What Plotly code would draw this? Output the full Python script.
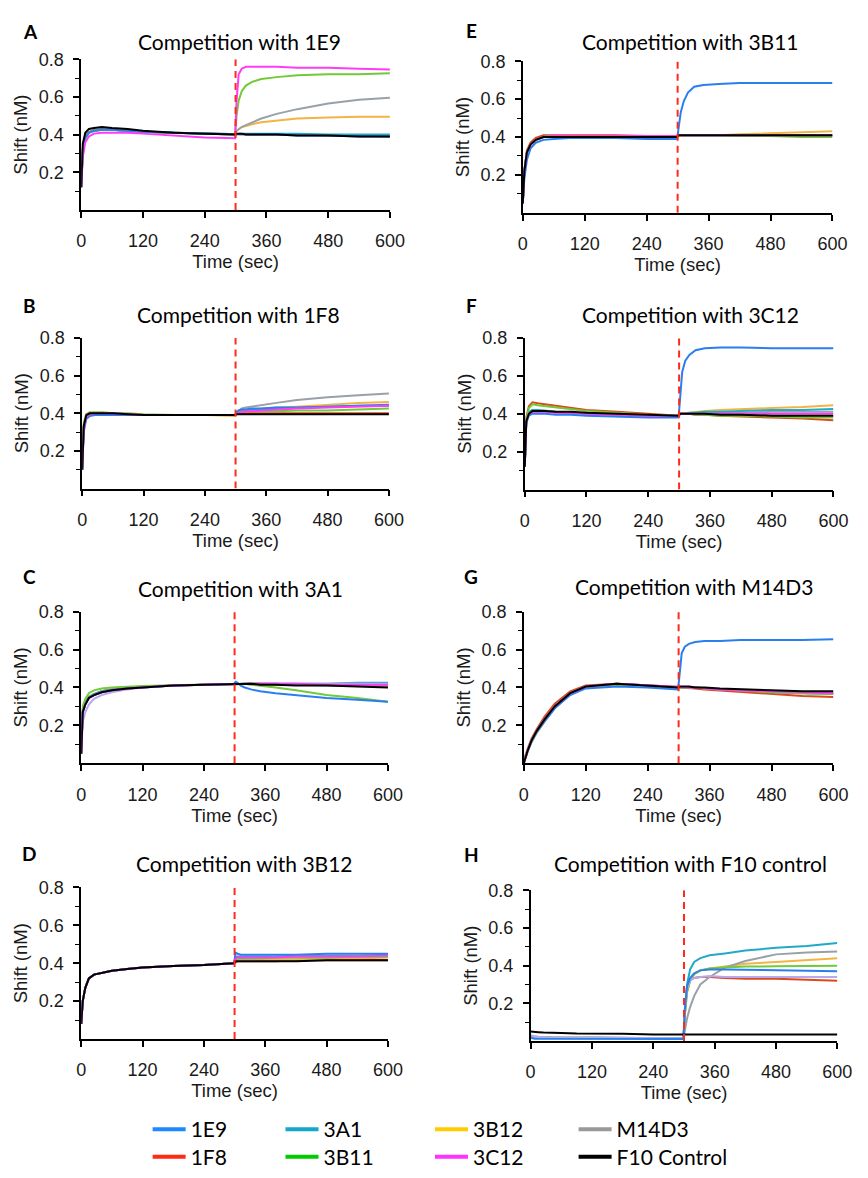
import plotly.graph_objects as go

W, H = 868, 1178

# ---------------- data ----------------
TIME = [0, 3, 8, 15, 25, 40, 60, 90, 120, 180, 240, 299,
        302, 306, 312, 320, 332, 350, 380, 420, 480, 540, 600]
SWITCH_TIME = 300
X_TICKS = [0, 120, 240, 360, 480, 600]
Y_TICKS = [0.2, 0.4, 0.6, 0.8]
Y_TICK_TEXT = ["0.2", "0.4", "0.6", "0.8"]
Y_MINOR = [0.1, 0.3, 0.5, 0.7]

SERIES = ["1E9", "1F8", "3A1", "3B11", "3B12", "3C12", "M14D3", "F10 Control"]
PANELS = ["A", "B", "C", "D", "E", "F", "G", "H"]
PANEL_TITLES = ["Competition with 1E9", "Competition with 1F8", "Competition with 3A1",
                "Competition with 3B12", "Competition with 3B11", "Competition with 3C12",
                "Competition with M14D3", "Competition with F10 control"]

# Panel A - competition with 1E9
A_1E9 = [0.12, 0.32, 0.385, 0.41, 0.42, 0.425, 0.425, 0.42, 0.415, 0.41, 0.405, 0.40,
         0.40, 0.40, 0.40, 0.40, 0.40, 0.40, 0.40, 0.395, 0.395, 0.39, 0.39]
A_1F8 = [0.12, 0.33, 0.39, 0.415, 0.425, 0.43, 0.425, 0.42, 0.415, 0.41, 0.405, 0.40,
         0.40, 0.40, 0.40, 0.40, 0.40, 0.40, 0.40, 0.40, 0.395, 0.395, 0.39]
A_3A1 = [0.12, 0.30, 0.38, 0.41, 0.42, 0.425, 0.425, 0.42, 0.415, 0.41, 0.405, 0.40,
         0.40, 0.405, 0.405, 0.405, 0.405, 0.405, 0.405, 0.405, 0.40, 0.40, 0.40]
A_3B11 = [0.12, 0.31, 0.385, 0.41, 0.42, 0.425, 0.425, 0.42, 0.415, 0.41, 0.405, 0.40,
          0.50, 0.58, 0.63, 0.66, 0.68, 0.695, 0.705, 0.715, 0.72, 0.72, 0.725]
A_3B12 = [0.12, 0.31, 0.385, 0.41, 0.42, 0.425, 0.425, 0.42, 0.415, 0.41, 0.405, 0.40,
          0.42, 0.43, 0.44, 0.445, 0.455, 0.465, 0.475, 0.485, 0.49, 0.495, 0.495]
A_3C12 = [0.12, 0.28, 0.36, 0.39, 0.405, 0.41, 0.41, 0.41, 0.405, 0.395, 0.385, 0.38,
          0.58, 0.72, 0.75, 0.76, 0.76, 0.76, 0.76, 0.755, 0.755, 0.75, 0.745]
A_M14D3 = [0.12, 0.31, 0.385, 0.41, 0.42, 0.425, 0.425, 0.42, 0.415, 0.41, 0.405, 0.40,
           0.42, 0.43, 0.44, 0.45, 0.465, 0.485, 0.51, 0.535, 0.565, 0.585, 0.595]
A_F10 = [0.12, 0.35, 0.41, 0.43, 0.435, 0.44, 0.435, 0.43, 0.42, 0.41, 0.405, 0.40,
         0.405, 0.405, 0.405, 0.40, 0.40, 0.40, 0.40, 0.395, 0.395, 0.39, 0.39]

# Panel B - competition with 1F8
B_1E9 = [0.10, 0.30, 0.37, 0.385, 0.39, 0.39, 0.39, 0.39, 0.39, 0.39, 0.39, 0.39,
         0.405, 0.415, 0.42, 0.42, 0.425, 0.425, 0.43, 0.43, 0.435, 0.44, 0.445]
B_1F8 = [0.10, 0.33, 0.385, 0.40, 0.40, 0.40, 0.40, 0.395, 0.39, 0.39, 0.39, 0.39,
         0.395, 0.40, 0.40, 0.40, 0.40, 0.40, 0.40, 0.40, 0.40, 0.40, 0.40]
B_3A1 = [0.10, 0.32, 0.38, 0.395, 0.40, 0.40, 0.395, 0.395, 0.39, 0.39, 0.39, 0.39,
         0.40, 0.41, 0.415, 0.415, 0.42, 0.42, 0.425, 0.43, 0.435, 0.44, 0.44]
B_3B11 = [0.10, 0.35, 0.395, 0.405, 0.405, 0.405, 0.40, 0.40, 0.395, 0.39, 0.39, 0.39,
          0.40, 0.405, 0.41, 0.41, 0.41, 0.41, 0.41, 0.415, 0.415, 0.42, 0.425]
B_3B12 = [0.10, 0.33, 0.385, 0.40, 0.40, 0.40, 0.40, 0.395, 0.39, 0.39, 0.39, 0.385,
          0.40, 0.41, 0.415, 0.42, 0.42, 0.425, 0.43, 0.435, 0.445, 0.455, 0.46]
B_3C12 = [0.10, 0.32, 0.38, 0.395, 0.40, 0.40, 0.40, 0.395, 0.39, 0.39, 0.39, 0.39,
          0.395, 0.40, 0.405, 0.41, 0.41, 0.415, 0.42, 0.425, 0.43, 0.435, 0.44]
B_M14D3 = [0.10, 0.32, 0.38, 0.395, 0.40, 0.40, 0.40, 0.395, 0.39, 0.39, 0.39, 0.39,
           0.405, 0.415, 0.425, 0.43, 0.435, 0.445, 0.455, 0.47, 0.485, 0.495, 0.505]
B_F10 = [0.10, 0.33, 0.39, 0.40, 0.40, 0.40, 0.40, 0.395, 0.39, 0.39, 0.39, 0.39,
         0.395, 0.395, 0.395, 0.395, 0.395, 0.395, 0.395, 0.395, 0.395, 0.395, 0.395]

# Panel C - competition with 3A1
C_1E9 = [0.05, 0.27, 0.31, 0.345, 0.36, 0.375, 0.385, 0.395, 0.40, 0.41, 0.415, 0.42,
         0.43, 0.425, 0.41, 0.40, 0.39, 0.38, 0.37, 0.36, 0.345, 0.335, 0.325]
C_1F8 = [0.05, 0.28, 0.32, 0.35, 0.365, 0.38, 0.39, 0.398, 0.403, 0.41, 0.415, 0.42,
         0.42, 0.42, 0.42, 0.42, 0.42, 0.42, 0.42, 0.415, 0.415, 0.41, 0.41]
C_3A1 = [0.05, 0.28, 0.32, 0.35, 0.365, 0.38, 0.39, 0.398, 0.403, 0.41, 0.415, 0.42,
         0.42, 0.42, 0.42, 0.42, 0.42, 0.42, 0.42, 0.42, 0.42, 0.425, 0.425]
C_3B11 = [0.05, 0.30, 0.34, 0.37, 0.385, 0.395, 0.40, 0.405, 0.408, 0.412, 0.415, 0.42,
          0.42, 0.42, 0.42, 0.42, 0.415, 0.41, 0.40, 0.385, 0.36, 0.345, 0.325]
C_3B12 = [0.05, 0.28, 0.32, 0.35, 0.365, 0.38, 0.39, 0.398, 0.403, 0.41, 0.415, 0.42,
          0.42, 0.42, 0.42, 0.42, 0.42, 0.42, 0.415, 0.415, 0.415, 0.41, 0.41]
C_3C12 = [0.05, 0.27, 0.31, 0.345, 0.36, 0.375, 0.385, 0.395, 0.40, 0.41, 0.415, 0.42,
          0.42, 0.42, 0.42, 0.42, 0.42, 0.42, 0.42, 0.42, 0.415, 0.415, 0.415]
C_M14D3 = [0.05, 0.27, 0.31, 0.345, 0.36, 0.375, 0.385, 0.395, 0.40, 0.41, 0.415, 0.42,
           0.42, 0.42, 0.42, 0.42, 0.42, 0.42, 0.415, 0.415, 0.41, 0.41, 0.41]
C_F10 = [0.05, 0.27, 0.31, 0.345, 0.36, 0.375, 0.385, 0.395, 0.40, 0.41, 0.415, 0.42,
         0.42, 0.42, 0.42, 0.42, 0.42, 0.415, 0.415, 0.41, 0.41, 0.405, 0.40]
C_OTHER = [0.05, 0.22, 0.27, 0.31, 0.34, 0.36, 0.375, 0.39, 0.40, 0.41, 0.415, 0.42,
           0.42, 0.42, 0.42, 0.42, 0.42, 0.42, 0.42, 0.42, 0.42, 0.42, 0.42]

# Panel D - competition with 3B12
D_1E9 = [0.08, 0.20, 0.27, 0.32, 0.34, 0.35, 0.36, 0.37, 0.377, 0.385, 0.39, 0.40,
         0.455, 0.45, 0.445, 0.445, 0.445, 0.445, 0.445, 0.445, 0.45, 0.45, 0.45]
D_1F8 = [0.08, 0.20, 0.27, 0.32, 0.34, 0.35, 0.36, 0.37, 0.377, 0.385, 0.39, 0.40,
         0.405, 0.41, 0.41, 0.41, 0.41, 0.41, 0.41, 0.415, 0.415, 0.415, 0.415]
D_3A1 = [0.08, 0.20, 0.27, 0.32, 0.34, 0.35, 0.36, 0.37, 0.377, 0.385, 0.39, 0.40,
         0.43, 0.435, 0.435, 0.435, 0.435, 0.435, 0.435, 0.44, 0.44, 0.44, 0.445]
D_3B11 = [0.08, 0.20, 0.27, 0.32, 0.34, 0.35, 0.36, 0.37, 0.377, 0.385, 0.39, 0.40,
          0.42, 0.425, 0.425, 0.425, 0.425, 0.425, 0.43, 0.43, 0.43, 0.435, 0.435]
D_3B12 = [0.08, 0.20, 0.27, 0.32, 0.34, 0.35, 0.36, 0.37, 0.377, 0.385, 0.39, 0.40,
          0.41, 0.415, 0.415, 0.415, 0.415, 0.42, 0.42, 0.42, 0.425, 0.425, 0.43]
D_3C12 = [0.08, 0.20, 0.27, 0.32, 0.34, 0.35, 0.36, 0.37, 0.377, 0.385, 0.39, 0.40,
          0.425, 0.43, 0.43, 0.43, 0.43, 0.43, 0.43, 0.435, 0.435, 0.435, 0.44]
D_M14D3 = [0.08, 0.20, 0.27, 0.32, 0.34, 0.35, 0.36, 0.37, 0.377, 0.385, 0.39, 0.40,
           0.42, 0.425, 0.425, 0.425, 0.425, 0.43, 0.43, 0.43, 0.43, 0.435, 0.435]
D_F10 = [0.08, 0.20, 0.27, 0.32, 0.34, 0.35, 0.36, 0.37, 0.377, 0.385, 0.39, 0.40,
         0.41, 0.41, 0.41, 0.41, 0.41, 0.41, 0.41, 0.41, 0.415, 0.415, 0.415]

# Panel E - competition with 3B11
E_1E9 = [0.05, 0.18, 0.28, 0.34, 0.37, 0.385, 0.39, 0.395, 0.395, 0.395, 0.39, 0.39,
         0.45, 0.53, 0.59, 0.635, 0.665, 0.675, 0.68, 0.685, 0.685, 0.685, 0.685]
E_1F8 = [0.05, 0.22, 0.33, 0.37, 0.395, 0.41, 0.41, 0.41, 0.41, 0.41, 0.405, 0.405,
         0.41, 0.41, 0.41, 0.41, 0.41, 0.41, 0.41, 0.41, 0.41, 0.41, 0.41]
E_3A1 = [0.05, 0.22, 0.32, 0.36, 0.385, 0.40, 0.405, 0.405, 0.405, 0.405, 0.405, 0.405,
         0.41, 0.41, 0.41, 0.41, 0.41, 0.41, 0.41, 0.41, 0.41, 0.41, 0.41]
E_3B11 = [0.05, 0.22, 0.32, 0.36, 0.385, 0.40, 0.405, 0.405, 0.405, 0.405, 0.405, 0.405,
          0.41, 0.41, 0.41, 0.41, 0.41, 0.41, 0.41, 0.405, 0.405, 0.40, 0.40]
E_3B12 = [0.05, 0.22, 0.32, 0.36, 0.385, 0.40, 0.405, 0.405, 0.405, 0.405, 0.405, 0.405,
          0.41, 0.41, 0.41, 0.41, 0.41, 0.41, 0.41, 0.415, 0.42, 0.425, 0.43]
E_3C12 = [0.05, 0.22, 0.32, 0.36, 0.385, 0.40, 0.405, 0.405, 0.405, 0.405, 0.405, 0.405,
          0.41, 0.41, 0.41, 0.41, 0.41, 0.41, 0.41, 0.41, 0.41, 0.41, 0.41]
E_M14D3 = [0.05, 0.22, 0.32, 0.36, 0.385, 0.40, 0.405, 0.405, 0.405, 0.405, 0.405, 0.405,
           0.41, 0.41, 0.41, 0.41, 0.41, 0.41, 0.41, 0.41, 0.41, 0.41, 0.41]
E_F10 = [0.05, 0.22, 0.32, 0.36, 0.385, 0.40, 0.40, 0.40, 0.40, 0.40, 0.40, 0.40,
         0.41, 0.41, 0.41, 0.41, 0.41, 0.41, 0.41, 0.41, 0.41, 0.41, 0.41]

# Panel F - competition with 3C12
F_1E9 = [0.12, 0.35, 0.39, 0.40, 0.40, 0.40, 0.395, 0.395, 0.39, 0.385, 0.38, 0.38,
         0.50, 0.62, 0.68, 0.71, 0.735, 0.745, 0.75, 0.75, 0.745, 0.745, 0.745]
F_1F8 = [0.12, 0.38, 0.44, 0.46, 0.455, 0.45, 0.44, 0.43, 0.42, 0.41, 0.40, 0.39,
         0.40, 0.40, 0.40, 0.40, 0.395, 0.395, 0.39, 0.385, 0.38, 0.375, 0.365]
F_3A1 = [0.12, 0.36, 0.41, 0.42, 0.42, 0.415, 0.41, 0.405, 0.40, 0.395, 0.39, 0.39,
         0.40, 0.40, 0.40, 0.405, 0.405, 0.41, 0.41, 0.415, 0.42, 0.42, 0.425]
F_3B11 = [0.12, 0.37, 0.43, 0.45, 0.445, 0.44, 0.435, 0.425, 0.415, 0.405, 0.395, 0.39,
          0.40, 0.40, 0.40, 0.40, 0.395, 0.395, 0.39, 0.39, 0.385, 0.38, 0.38]
F_3B12 = [0.12, 0.36, 0.41, 0.42, 0.42, 0.415, 0.41, 0.405, 0.40, 0.395, 0.39, 0.39,
          0.40, 0.40, 0.40, 0.405, 0.41, 0.415, 0.42, 0.425, 0.43, 0.435, 0.445]
F_3C12 = [0.12, 0.36, 0.40, 0.41, 0.41, 0.41, 0.405, 0.405, 0.40, 0.395, 0.39, 0.39,
          0.40, 0.40, 0.40, 0.40, 0.40, 0.40, 0.40, 0.40, 0.40, 0.40, 0.40]
F_M14D3 = [0.12, 0.36, 0.40, 0.41, 0.41, 0.41, 0.405, 0.405, 0.40, 0.395, 0.39, 0.39,
           0.40, 0.40, 0.40, 0.40, 0.40, 0.405, 0.405, 0.405, 0.41, 0.41, 0.41]
F_F10 = [0.12, 0.36, 0.40, 0.415, 0.415, 0.415, 0.41, 0.41, 0.405, 0.40, 0.395, 0.39,
         0.40, 0.40, 0.40, 0.40, 0.40, 0.40, 0.395, 0.395, 0.39, 0.39, 0.39]

# Panel G - competition with M14D3
G_1E9 = [0.0, 0.03, 0.07, 0.115, 0.165, 0.22, 0.29, 0.36, 0.395, 0.405, 0.40, 0.39,
         0.48, 0.58, 0.615, 0.63, 0.64, 0.645, 0.645, 0.65, 0.65, 0.65, 0.655]
G_1F8 = [0.0, 0.04, 0.08, 0.13, 0.18, 0.245, 0.315, 0.38, 0.41, 0.42, 0.41, 0.40,
         0.40, 0.40, 0.40, 0.40, 0.395, 0.39, 0.385, 0.375, 0.365, 0.355, 0.35]
G_3A1 = [0.0, 0.03, 0.07, 0.12, 0.17, 0.23, 0.30, 0.37, 0.405, 0.42, 0.41, 0.40,
         0.40, 0.40, 0.40, 0.40, 0.40, 0.395, 0.39, 0.385, 0.375, 0.37, 0.365]
G_3B11 = [0.0, 0.025, 0.065, 0.11, 0.16, 0.22, 0.29, 0.365, 0.40, 0.415, 0.41, 0.40,
          0.40, 0.40, 0.40, 0.40, 0.40, 0.395, 0.39, 0.385, 0.375, 0.37, 0.365]
G_3B12 = [0.0, 0.03, 0.07, 0.12, 0.17, 0.23, 0.30, 0.37, 0.405, 0.42, 0.41, 0.40,
          0.40, 0.40, 0.40, 0.40, 0.40, 0.395, 0.39, 0.385, 0.38, 0.375, 0.37]
G_3C12 = [0.0, 0.03, 0.07, 0.12, 0.17, 0.23, 0.30, 0.37, 0.405, 0.42, 0.41, 0.40,
          0.40, 0.40, 0.40, 0.40, 0.40, 0.395, 0.39, 0.385, 0.38, 0.375, 0.37]
G_M14D3 = [0.0, 0.03, 0.07, 0.12, 0.17, 0.23, 0.30, 0.37, 0.405, 0.42, 0.41, 0.40,
           0.40, 0.40, 0.40, 0.40, 0.40, 0.395, 0.39, 0.385, 0.38, 0.375, 0.37]
G_F10 = [0.0, 0.03, 0.07, 0.12, 0.17, 0.23, 0.30, 0.37, 0.405, 0.42, 0.41, 0.40,
         0.405, 0.405, 0.405, 0.405, 0.40, 0.40, 0.395, 0.39, 0.385, 0.38, 0.38]

# Panel H - competition with F10 control
H_1E9 = [0.02, 0.015, 0.012, 0.012, 0.012, 0.01, 0.01, 0.01, 0.01, 0.01, 0.01, 0.01,
         0.18, 0.29, 0.335, 0.36, 0.375, 0.38, 0.38, 0.378, 0.375, 0.373, 0.37]
H_1F8 = [0.025, 0.02, 0.02, 0.018, 0.018, 0.016, 0.016, 0.015, 0.015, 0.015, 0.015, 0.015,
         0.18, 0.29, 0.325, 0.335, 0.34, 0.34, 0.335, 0.33, 0.33, 0.325, 0.32]
H_3A1 = [0.03, 0.025, 0.022, 0.02, 0.02, 0.018, 0.018, 0.016, 0.015, 0.015, 0.015, 0.015,
         0.15, 0.30, 0.38, 0.42, 0.44, 0.455, 0.465, 0.48, 0.495, 0.505, 0.52]
H_3B11 = [0.03, 0.025, 0.022, 0.02, 0.02, 0.018, 0.018, 0.016, 0.015, 0.015, 0.015, 0.015,
          0.15, 0.26, 0.32, 0.355, 0.375, 0.385, 0.39, 0.395, 0.397, 0.398, 0.40]
H_3B12 = [0.03, 0.025, 0.022, 0.02, 0.02, 0.018, 0.018, 0.016, 0.015, 0.015, 0.015, 0.015,
          0.15, 0.26, 0.32, 0.355, 0.375, 0.385, 0.395, 0.41, 0.42, 0.43, 0.44]
H_M14D3 = [0.03, 0.025, 0.022, 0.02, 0.02, 0.018, 0.018, 0.016, 0.015, 0.015, 0.015, 0.015,
           0.06, 0.12, 0.18, 0.24, 0.30, 0.34, 0.39, 0.425, 0.46, 0.47, 0.475]
H_F10 = [0.05, 0.05, 0.048, 0.047, 0.045, 0.045, 0.043, 0.04, 0.04, 0.038, 0.035, 0.035,
         0.035, 0.035, 0.035, 0.035, 0.035, 0.035, 0.035, 0.035, 0.035, 0.035, 0.035]
H_OTHER = [0.03, 0.025, 0.022, 0.02, 0.02, 0.018, 0.018, 0.016, 0.015, 0.015, 0.015, 0.015,
           0.17, 0.28, 0.32, 0.335, 0.34, 0.345, 0.34, 0.34, 0.34, 0.34, 0.34]

PANEL_DATA = {
    "A": {"1E9": A_1E9, "1F8": A_1F8, "3A1": A_3A1, "3B11": A_3B11, "3B12": A_3B12,
          "3C12": A_3C12, "M14D3": A_M14D3, "F10 Control": A_F10},
    "B": {"1E9": B_1E9, "1F8": B_1F8, "3A1": B_3A1, "3B11": B_3B11, "3B12": B_3B12,
          "3C12": B_3C12, "M14D3": B_M14D3, "F10 Control": B_F10},
    "C": {"1E9": C_1E9, "1F8": C_1F8, "3A1": C_3A1, "3B11": C_3B11, "3B12": C_3B12,
          "3C12": C_3C12, "M14D3": C_M14D3, "F10 Control": C_F10, "other": C_OTHER},
    "D": {"1E9": D_1E9, "1F8": D_1F8, "3A1": D_3A1, "3B11": D_3B11, "3B12": D_3B12,
          "3C12": D_3C12, "M14D3": D_M14D3, "F10 Control": D_F10},
    "E": {"1E9": E_1E9, "1F8": E_1F8, "3A1": E_3A1, "3B11": E_3B11, "3B12": E_3B12,
          "3C12": E_3C12, "M14D3": E_M14D3, "F10 Control": E_F10},
    "F": {"1E9": F_1E9, "1F8": F_1F8, "3A1": F_3A1, "3B11": F_3B11, "3B12": F_3B12,
          "3C12": F_3C12, "M14D3": F_M14D3, "F10 Control": F_F10},
    "G": {"1E9": G_1E9, "1F8": G_1F8, "3A1": G_3A1, "3B11": G_3B11, "3B12": G_3B12,
          "3C12": G_3C12, "M14D3": G_M14D3, "F10 Control": G_F10},
    "H": {"1E9": H_1E9, "1F8": H_1F8, "3A1": H_3A1, "3B11": H_3B11, "3B12": H_3B12,
          "M14D3": H_M14D3, "F10 Control": H_F10, "other": H_OTHER},
}

# ---------------- styles ----------------
LINE_COLORS = {"1E9": "#2a7ff0", "1F8": "#dc4a1c", "3A1": "#22a9c6", "3B11": "#72c93a",
               "3B12": "#f2b445", "3C12": "#ff3cf5", "M14D3": "#9aa0a8",
               "F10 Control": "#000000", "other": "#b8a8ee"}
LEGEND_COLORS = {"1E9": "#1e88ff", "1F8": "#ff2a10", "3A1": "#15a6cc", "3B11": "#00cc00",
                 "3B12": "#ffcc00", "3C12": "#ff33ff", "M14D3": "#999999",
                 "F10 Control": "#000000"}
DRAW_ORDER = ["1F8", "3B12", "M14D3", "3A1", "3B11", "other", "1E9", "3C12", "F10 Control"]

# panel boxes in pixels: (left, right, top, bottom) of the plotting area
PANEL_BOX = {"A": (78, 394, 50, 203), "B": (79, 393, 333, 486),
             "C": (78, 392, 611, 765), "D": (78, 392, 891, 1045),
             "E": (530, 847, 52, 206), "F": (532, 848, 333, 487),
             "G": (531, 848, 611, 765), "H": (538, 852, 894, 1047)}
TITLE_POS = {"A": (240, 32), "B": (239, 309), "C": (241, 587), "D": (245, 867),
             "E": (702, 32), "F": (702, 309), "G": (705, 585), "H": (702, 867)}
LETTER_POS = {"A": (26, 22), "B": (25, 300), "C": (25, 575), "D": (25, 857),
              "E": (477, 21), "F": (477, 300), "G": (477, 575), "H": (478, 858)}

# legend: 2 rows x 4 columns, one single-entry legend per slot
LEGEND_SLOTS = [("1E9", 151, 1137), ("1F8", 151, 1165),
                ("3A1", 287, 1137), ("3B11", 287, 1165),
                ("3B12", 440, 1137), ("3C12", 440, 1165),
                ("M14D3", 587, 1137), ("F10 Control", 587, 1165)]

TICK_FONT = dict(family="Liberation Sans, Arial, sans-serif", size=18, color="#1a1a1a")
AXIS_TITLE_FONT = dict(family="Liberation Sans, Arial, sans-serif", size=18.5, color="#1a1a1a")
TEXT_FONT = "Lato, Calibri, sans-serif"


def px_x(px):
    return px / W


def px_y(py):
    return 1 - py / H


fig = go.Figure()
layout = dict(width=W, height=H, margin=dict(l=0, r=0, t=0, b=0),
              plot_bgcolor="white", paper_bgcolor="white", showlegend=True)
annotations = []
shapes = []

for i, p in enumerate(PANELS):
    n = i + 1
    sfx = "" if n == 1 else str(n)
    xr, yr = "x" + sfx, "y" + sfx
    left, right, top, bottom = PANEL_BOX[p]
    for name in DRAW_ORDER:
        vals = PANEL_DATA[p].get(name)
        if vals is None:
            continue
        fig.add_trace(go.Scatter(x=TIME, y=vals, mode="lines", name=name,
                                 line=dict(color=LINE_COLORS[name], width=2),
                                 showlegend=False, hoverinfo="skip",
                                 xaxis=xr, yaxis=yr))
    layout["xaxis" + sfx] = dict(
        domain=[px_x(left), px_x(right)], anchor=yr, range=[0, 600],
        tickmode="array", tickvals=X_TICKS, ticks="outside", ticklen=6, tickwidth=1.5,
        tickcolor="black", showline=True, linecolor="black", linewidth=1.5,
        showgrid=False, zeroline=False, tickfont=TICK_FONT, ticklabelstandoff=8,
        title=dict(text="Time (sec)", font=AXIS_TITLE_FONT, standoff=3))
    layout["yaxis" + sfx] = dict(
        domain=[px_y(bottom), px_y(top)], anchor=xr, range=[0, 0.8],
        tickmode="array", tickvals=Y_TICKS, ticktext=Y_TICK_TEXT, ticks="outside",
        ticklen=6, tickwidth=1.5, tickcolor="black", showline=True, linecolor="black",
        linewidth=1.5, showgrid=False, zeroline=False, tickfont=TICK_FONT,
        ticklabelstandoff=6,
        minor=dict(tickmode="array", tickvals=Y_MINOR, ticks="outside", ticklen=4,
                   tickwidth=1.2, tickcolor="black", showgrid=False),
        title=dict(text="Shift (nM)", font=AXIS_TITLE_FONT, standoff=6))
    shapes.append(dict(type="line", xref=xr, yref=yr, x0=SWITCH_TIME, x1=SWITCH_TIME,
                       y0=0, y1=0.8, line=dict(color="#ff2a1a", width=2, dash="7px,5px"),
                       layer="above"))
    tx, ty = TITLE_POS[p]
    annotations.append(dict(text=PANEL_TITLES[i], x=px_x(tx), y=px_y(ty), xref="paper",
                            yref="paper", xanchor="center", yanchor="middle",
                            showarrow=False, font=dict(family=TEXT_FONT, size=21, color="black")))
    lx, ly = LETTER_POS[p]
    annotations.append(dict(text="<b>%s</b>" % p, x=px_x(lx), y=px_y(ly), xref="paper",
                            yref="paper", xanchor="center", yanchor="middle",
                            showarrow=False, font=dict(family=TEXT_FONT, size=19, color="black")))

for k, (name, lx, ly) in enumerate(LEGEND_SLOTS):
    key = "legend" if k == 0 else "legend%d" % (k + 1)
    fig.add_trace(go.Scatter(x=[None], y=[None], mode="lines", name=name,
                             line=dict(color=LEGEND_COLORS[name], width=4),
                             legend=key, showlegend=True, hoverinfo="skip"))
    layout[key] = dict(x=px_x(lx - 5), y=px_y(ly), xanchor="left", yanchor="middle",
                       orientation="v", bgcolor="rgba(0,0,0,0)", borderwidth=0,
                       itemwidth=33, font=dict(family=TEXT_FONT, size=21, color="black"))

layout["annotations"] = annotations
layout["shapes"] = shapes
fig.update_layout(**layout)
fig.write_html("out.html")
